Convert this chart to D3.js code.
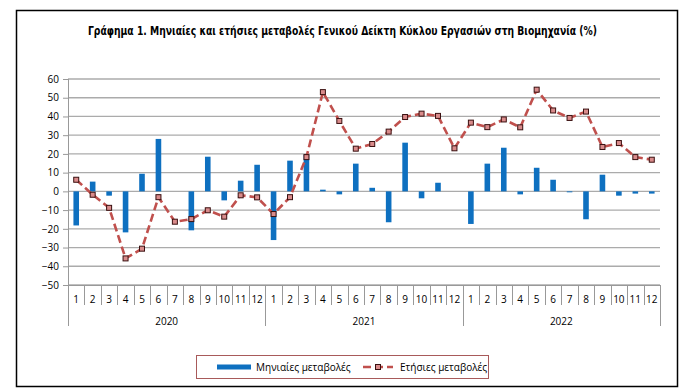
<!DOCTYPE html>
<meta charset="utf-8">
<html>
<head>
<style>
  body { margin: 0; background: #fff; }
  text { font-family: "Open Sans", "Liberation Sans", sans-serif; }
</style>
</head>
<body>
<div id="chart"></div>
<script src="https://d3js.org/d3.v7.min.js"></script>
<script>
  // data
  var years = ["2020", "2021", "2022"];
  var months = ["1","2","3","4","5","6","7","8","9","10","11","12"];
  var monthly = [
    -18.2, 5.2, -2.3, -21.9, 9.4, 28.0, 0, -20.8, 18.5, -4.8, 5.7, 14.2,
    -26.0, 16.4, 19.6, 0.9, -1.6, 14.8, 1.9, -16.5, 26.0, -3.7, 4.6, 0,
    -17.4, 14.8, 23.3, -1.6, 12.6, 6.2, -0.5, -14.9, 8.9, -2.3, -1.2, -1.2
  ];
  var annual = [
    6.2, -1.8, -8.8, -35.8, -30.6, -3.1, -16.2, -14.8, -10.1, -13.5, -2.1, -3.2,
    -12.1, -3.1, 18.3, 53.0, 37.6, 22.8, 25.3, 31.9, 39.7, 41.5, 40.3, 23.0,
    36.7, 34.3, 38.4, 34.2, 54.3, 43.2, 39.2, 42.6, 23.7, 25.8, 18.3, 16.9
  ];
  var yTicks = [60, 50, 40, 30, 20, 10, 0, -10, -20, -30, -40, -50];
  var title = "Γράφημα 1. Μηνιαίες και ετήσιες μεταβολές  Γενικού Δείκτη Κύκλου Εργασιών στη Βιομηχανία (%)";
  var legendBar = "Μηνιαίες μεταβολές";
  var legendLine = "Ετήσιες μεταβολές";

  var W = 700, H = 392;

  var svg = d3.select("#chart").append("svg")
      .attr("width", W).attr("height", H);

  // outer frame
  svg.append("rect")
      .attr("x", 16.5).attr("y", 10.5)
      .attr("width", 661).attr("height", 376)
      .attr("fill", "#fff").attr("stroke", "#000").attr("stroke-width", 1.5);

  svg.append("text")
      .attr("x", 88).attr("y", 35)
      .attr("textLength", 509)
      .attr("lengthAdjust", "spacingAndGlyphs")
      .style("font-family", "'DejaVu Sans Condensed', 'Liberation Sans', sans-serif")
      .style("font-weight", "bold")
      .style("font-size", "12px")
      .text(title);

  var keys = [];
  years.forEach(function(yr) { months.forEach(function(m) { keys.push(yr + "-" + m); }); });

  var x = d3.scaleBand().domain(keys).range([68, 660]);
  var y = d3.scaleLinear().domain([-50, 60]).range([285, 79]);

  // gridlines
  svg.append("g").selectAll("line").data(yTicks).enter().append("line")
      .attr("x1", 68).attr("x2", 660)
      .attr("y1", function(d) { return y(d); }).attr("y2", function(d) { return y(d); })
      .attr("stroke", "#ababab").attr("stroke-width", 1.3);

  // y axis
  var yAxis = svg.append("g")
      .attr("transform", "translate(68,0)")
      .call(d3.axisLeft(y).tickValues(yTicks).tickSize(5).tickPadding(4));
  yAxis.select(".domain").remove();
  yAxis.selectAll("line").attr("stroke", "#999");
  yAxis.selectAll("text").style("font-size", "10px").attr("fill", "#000")
      .style("font-family", "'Open Sans', sans-serif");
  svg.append("line").attr("x1", 68.5).attr("x2", 68.5).attr("y1", 79).attr("y2", 326)
      .attr("stroke", "#999").attr("stroke-width", 1);

  // category axis with two levels
  var xAxis = svg.append("g");
  keys.forEach(function(k, i) {
    var xr = x(k) + x.bandwidth();
    var isYearEnd = (i % 12) === 11;
    xAxis.append("line")
      .attr("x1", Math.round(xr) + 0.5).attr("x2", Math.round(xr) + 0.5)
      .attr("y1", 285).attr("y2", isYearEnd ? 326 : 305)
      .attr("stroke", "#999");
    xAxis.append("text")
      .attr("x", x(k) + x.bandwidth() / 2).attr("y", 303)
      .attr("text-anchor", "middle")
      .style("font-size", "10px")
      .text(months[i % 12]);
  });
  svg.append("line").attr("x1", 68).attr("x2", 660).attr("y1", 285.5).attr("y2", 285.5)
      .attr("stroke", "#999");
  years.forEach(function(yr) {
    xAxis.append("text")
      .attr("x", (x(yr + "-1") + x(yr + "-12") + x.bandwidth()) / 2)
      .attr("y", 325)
      .attr("text-anchor", "middle")
      .style("font-size", "10px")
      .text(yr);
  });

  // bars
  var bw = x.bandwidth() * 0.34;
  svg.append("g").selectAll("rect").data(monthly).enter().append("rect")
      .attr("x", function(d, i) { return x(keys[i]) + (x.bandwidth() - bw) / 2; })
      .attr("y", function(d) { return y(Math.max(0, d)); })
      .attr("width", bw)
      .attr("height", function(d) { return Math.abs(y(d) - y(0)); })
      .attr("fill", "#0e70c0");

  // line
  var line = d3.line()
      .x(function(d, i) { return x(keys[i]) + x.bandwidth() / 2; })
      .y(function(d) { return y(d); });
  svg.append("path").datum(annual)
      .attr("d", line)
      .attr("fill", "none")
      .attr("stroke", "#c0504d")
      .attr("stroke-width", 2.6)
      .attr("stroke-dasharray", "8,4");

  svg.append("g").selectAll("rect").data(annual).enter().append("rect")
      .attr("x", function(d, i) { return x(keys[i]) + x.bandwidth() / 2 - 2.5; })
      .attr("y", function(d) { return y(d) - 2.5; })
      .attr("width", 5).attr("height", 5)
      .attr("fill", "#d98b8b").attr("stroke", "#3a1010").attr("stroke-width", 1);

  // legend
  var lg = svg.append("g");
  lg.append("rect").attr("x", 196.5).attr("y", 355.5).attr("width", 292).attr("height", 23)
      .attr("fill", "#fff").attr("stroke", "#a85a5a").attr("stroke-width", 1);
  lg.append("rect").attr("x", 217).attr("y", 364.5).attr("width", 34).attr("height", 5)
      .attr("fill", "#0e70c0");
  lg.append("text").attr("x", 256).attr("y", 371).style("font-size", "10px").text(legendBar);
  lg.append("line").attr("x1", 363).attr("x2", 393).attr("y1", 367).attr("y2", 367)
      .attr("stroke", "#c0504d").attr("stroke-width", 2.6).attr("stroke-dasharray", "8,4");
  lg.append("rect").attr("x", 375.5).attr("y", 364.5).attr("width", 5).attr("height", 5)
      .attr("fill", "#d98b8b").attr("stroke", "#3a1010");
  lg.append("text").attr("x", 400).attr("y", 371).style("font-size", "10px").text(legendLine);
</script>
</body>
</html>
